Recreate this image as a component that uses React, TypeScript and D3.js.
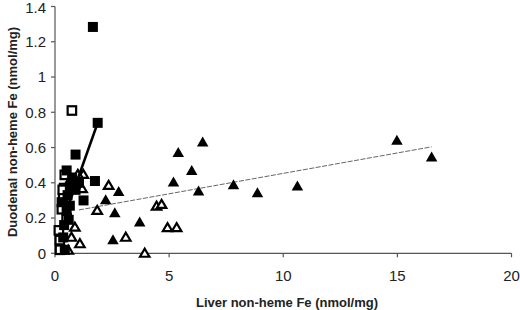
import React from "react";
import * as d3 from "d3";

// Filled squares (group with solid regression line)
const filledSquaresX = [1.66, 1.87, 0.9, 0.51, 0.75, 1.05, 1.75, 0.65, 0.9, 1.25, 0.55, 0.29, 0.65, 0.51, 0.6, 0.4, 0.36, 0.43, 0.7];
const filledSquaresY = [1.284, 0.74, 0.56, 0.47, 0.43, 0.4, 0.41, 0.38, 0.36, 0.3, 0.33, 0.29, 0.27, 0.24, 0.19, 0.16, 0.09, 0.02, 0.4];

// Open squares
const openSquaresX = [0.74, 0.43, 0.4, 0.36, 0.51, 0.17, 0.21, 0.34, 0.3, 0.22];
const openSquaresY = [0.81, 0.445, 0.37, 0.316, 0.2, 0.13, 0.075, 0.36, 0.25, 0.02];

// Open triangles
const openTrianglesX = [1.24, 1.0, 1.19, 2.35, 1.85, 4.45, 4.67, 4.93, 5.33, 3.1, 3.93, 0.87, 0.72, 1.09, 0.58];
const openTrianglesY = [0.45, 0.45, 0.37, 0.388, 0.246, 0.27, 0.28, 0.148, 0.148, 0.094, 0.003, 0.151, 0.094, 0.057, 0.02];

// Filled triangles (group with dashed regression line)
const filledTrianglesX = [5.4, 6.47, 5.99, 5.19, 6.29, 7.82, 8.87, 10.62, 14.98, 16.5, 2.79, 2.22, 2.62, 3.71, 2.54];
const filledTrianglesY = [0.575, 0.634, 0.473, 0.407, 0.356, 0.392, 0.347, 0.384, 0.644, 0.549, 0.354, 0.307, 0.233, 0.18, 0.08];

// Regression line end points
const squareLineX = [0.5, 1.87];
const squareLineY = [0.24, 0.74];
const triangleLineX = [1.05, 16.5];
const triangleLineY = [0.246, 0.604];

const xTicks = [0, 5, 10, 15, 20];
const yTicks = [0, 0.2, 0.4, 0.6, 0.8, 1, 1.2, 1.4];

const W = 520;
const H = 310;
const left = 55;
const right = 511.5;
const top = 6.5;
const bottom = 253.3;

export default function App() {
  const x = d3.scaleLinear().domain([0, 20]).range([left, right]);
  const y = d3.scaleLinear().domain([0, 1.4]).range([bottom, top]);
  const font = "'Liberation Sans', Arial, sans-serif";
  const sq = 10;
  const osq = 8.5;
  const tri = (cx: number, cy: number, w: number, h: number) =>
    `M${cx - w / 2},${cy + h / 2} L${cx},${cy - h / 2} L${cx + w / 2},${cy + h / 2} Z`;
  const line = d3.line<[number, number]>().x((d) => x(d[0])).y((d) => y(d[1]));

  return (
    <svg width={W} height={H} style={{ position: "absolute", left: 0, top: 0, background: "#fff" }} fontFamily={font}>
      {/* axes */}
      <line x1={left} x2={left} y1={top} y2={bottom} stroke="#555" strokeWidth={1.2} />
      <line x1={left} x2={right} y1={bottom} y2={bottom} stroke="#555" strokeWidth={1.2} />
      {yTicks.map((t) => (
        <g key={"y" + t}>
          <line x1={left - 4} x2={left} y1={y(t)} y2={y(t)} stroke="#555" strokeWidth={1.2} />
          <text x={46} y={Math.max(y(t), 7.8)} dy="0.35em" textAnchor="end" fontSize={15} fill="#222">
            {d3.format("~g")(t)}
          </text>
        </g>
      ))}
      {xTicks.map((t) => (
        <g key={"x" + t}>
          <line x1={x(t)} x2={x(t)} y1={bottom} y2={bottom + 4} stroke="#555" strokeWidth={1.2} />
          <text x={x(t)} y={280.5} textAnchor="middle" fontSize={15} fill="#222">
            {t}
          </text>
        </g>
      ))}
      <text x={287} y={307} textAnchor="middle" fontSize={13} fontWeight="bold" fill="#222">
        Liver non-heme Fe (nmol/mg)
      </text>
      <text
        transform={`translate(17,132) rotate(-90)`}
        textAnchor="middle"
        fontSize={13}
        fontWeight="bold"
        fill="#222"
      >
        Duodenal non-heme Fe (nmol/mg)
      </text>

      {/* regression lines */}
      <path
        d={line(triangleLineX.map((v, i) => [v, triangleLineY[i]]) as [number, number][]) || ""}
        stroke="#666"
        strokeWidth={1}
        strokeDasharray="5 1.5"
        fill="none"
      />

      {/* open triangles */}
      {openTrianglesX.map((v, i) => (
        <path key={"ot" + i} d={tri(x(v), y(openTrianglesY[i]), 9.5, 8)} fill="#fff" stroke="#000" strokeWidth={2.2} strokeLinejoin="miter" />
      ))}
      {/* filled triangles */}
      {filledTrianglesX.map((v, i) => (
        <path key={"ft" + i} d={tri(x(v), y(filledTrianglesY[i]), 11.5, 10)} fill="#000" />
      ))}
      {/* open squares */}
      {openSquaresX.map((v, i) => (
        <rect
          key={"os" + i}
          x={x(v) - osq / 2}
          y={y(openSquaresY[i]) - osq / 2}
          width={osq}
          height={osq}
          fill="#fff"
          stroke="#000"
          strokeWidth={2.2}
        />
      ))}
      {/* filled squares */}
      {filledSquaresX.map((v, i) => (
        <rect key={"fs" + i} x={x(v) - sq / 2} y={y(filledSquaresY[i]) - sq / 2} width={sq} height={sq} fill="#000" />
      ))}
      <path
        d={line(squareLineX.map((v, i) => [v, squareLineY[i]]) as [number, number][]) || ""}
        stroke="#000"
        strokeWidth={2.6}
        fill="none"
      />
    </svg>
  );
}
